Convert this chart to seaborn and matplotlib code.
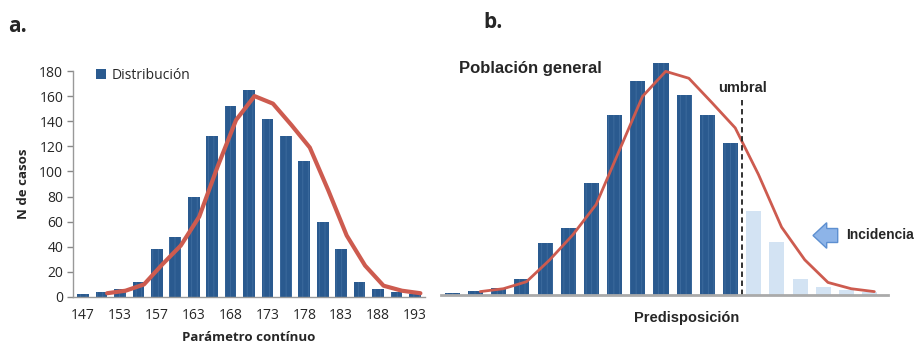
import numpy as np
import pandas as pd
import matplotlib
matplotlib.use("Agg")
import matplotlib.pyplot as plt
import seaborn as sns
from matplotlib.patches import Polygon

sns.set_theme(style="white")
plt.rcParams['font.family'] = ['Open Sans', 'DejaVu Sans']

# ---------------- data ----------------
cats_a = ["147", "150", "153", "155", "157", "160", "163", "165", "168", "170",
          "173", "175", "178", "180", "183", "185", "188", "190", "193"]
bars_a = [2, 4, 6, 12, 38, 48, 80, 128, 152, 165, 142, 128, 108, 60, 38, 12, 6, 4, 2]
line_a = [3, 5, 10, 26, 41, 64, 104, 141, 160, 154, 137, 119, 85, 49, 25, 9, 5, 3]
ticklabels_a = ["147", "153", "157", "163", "168", "173", "178", "183", "188", "193"]

cats_b = [f"c{i}" for i in range(1, 20)]
bars_b = [1.3, 3.5, 5.6, 13, 41, 53, 89, 143, 170, 185, 159, 143, 121, 67, 42, 13, 6.6, 4, 2]
group_b = ["base"] * 13 + ["incidencia"] * 6
line_b = [2.7, 5, 10.6, 28, 48, 72, 115, 158, 178, 172.5, 153, 133, 96, 54, 28, 10, 5, 2.7]
umbral_b = 12.5
umbral_top = 155

BLUE = "#2a5a8f"
STRIPE = "#3f6d9f"
LIGHT = "#d3e3f3"
RED = "#cd5b4f"

plt.rcParams['hatch.linewidth'] = 0.6

W, H = 918, 346
fig = plt.figure(figsize=(W / 100, H / 100), dpi=100)


def stripe(p):
    p.set_edgecolor(STRIPE)
    p.set_linewidth(0)
    p.set_hatch("|||")
    if hasattr(p, "set_hatchcolor"):
        p.set_hatchcolor(STRIPE)


# ---------------- panel a ----------------
axa = fig.add_axes([73 / W, 1 - 297 / H, (425 - 73) / W, (297 - 71) / H])
dfa = pd.DataFrame({"cat": cats_a, "n": bars_a})
sns.barplot(data=dfa, x="cat", y="n", color=BLUE, saturation=1, width=0.63,
            ax=axa, label="Distribución")
for p in axa.patches:
    stripe(p)
xa = np.arange(1, len(cats_a)) + 0.3
sns.lineplot(x=xa, y=line_a, color=RED, lw=3, ax=axa, legend=False)
axa.set_xlim(-0.55, 18.55)
axa.set_ylim(0, 180)
axa.set_yticks(np.arange(0, 181, 20))
axa.set_xticks(np.arange(0, 19, 2))
axa.set_xticklabels(ticklabels_a)
axa.set_xticks(np.arange(-0.5, 19, 1), minor=True)
axa.tick_params(axis="x", which="major", length=0, labelsize=10, pad=8)
axa.tick_params(axis="x", which="minor", length=4, width=1, color="#888888", direction="out")
axa.tick_params(axis="y", length=4, width=1, color="#888888", direction="out", labelsize=10, left=True, pad=3)
for s in ["top", "right"]:
    axa.spines[s].set_visible(False)
for s in ["left", "bottom"]:
    axa.spines[s].set_color("#999999")
    axa.spines[s].set_linewidth(1)
axa.set_xlabel("Parámetro contínuo", fontsize=9.5, fontweight="bold", labelpad=6)
axa.set_ylabel("N de casos", fontsize=9.5, fontweight="bold", labelpad=7)
axa.grid(False)
leg = axa.legend(loc="upper left", bbox_to_anchor=(0.03, 1.07), frameon=False,
                 fontsize=10, handlelength=0.7, handleheight=0.7, handletextpad=0.4)
for h in leg.get_patches():
    h.set_hatch(None)

fig.text(8 / W, 1 - 27 / H, "a.", fontsize=15, fontweight="bold", va="center", ha="left")

# ---------------- panel b ----------------
axb = fig.add_axes([441 / W, 1 - 295 / H, (888 - 441) / W, (295 - 50) / H])
dfb = pd.DataFrame({"cat": cats_b, "n": bars_b, "g": group_b})
sns.barplot(data=dfb, x="cat", y="n", hue="g", palette={"base": BLUE, "incidencia": LIGHT},
            saturation=1, width=0.65, dodge=False, ax=axb, legend=False)
for p in axb.patches:
    p.set_linewidth(0)
    if p.get_facecolor()[2] < 0.7:
        stripe(p)
xb = np.arange(1, len(cats_b)) + 0.2
sns.lineplot(x=xb, y=line_b, color=RED, lw=2, ax=axb, legend=False)
axb.vlines(umbral_b, 0, umbral_top, colors="#222222", linestyles=(0, (3, 2)), lw=1.3)
axb.set_xlim(-0.49, 18.79)
axb.set_ylim(0, 195)
axb.set_xticks([])
axb.set_yticks([])
axb.set_xlabel("")
axb.set_ylabel("")
for s in ["top", "right", "left"]:
    axb.spines[s].set_visible(False)
axb.spines["bottom"].set_color("#aaaaaa")
axb.spines["bottom"].set_linewidth(2)
axb.grid(False)

bfont = ['Liberation Sans', 'DejaVu Sans']
fig.text(483 / W, 1 - 22 / H, "b.", fontsize=15, fontweight="bold", va="center", ha="left")
fig.text(459 / W, 1 - 69 / H, "Población general", fontsize=12, fontweight="bold",
         va="center", ha="left", family=bfont)
fig.text(718 / W, 1 - 88 / H, "umbral", fontsize=10.5, fontweight="bold",
         va="center", ha="left", family=bfont)
fig.text(846 / W, 1 - 235 / H, "Incidencia", fontsize=10, fontweight="bold",
         va="center", ha="left", family=bfont)
fig.text(687 / W, 1 - 318 / H, "Predisposición", fontsize=10.5, fontweight="bold",
         va="center", ha="center", family=bfont)

# arrow (pixel coords from top-left)
pts = [(813, 235.5), (826.7, 222.7), (826.7, 228.5), (837.7, 228.5),
       (837.7, 242.5), (826.7, 242.5), (826.7, 248.3)]
pts = [(x / W, 1 - y / H) for x, y in pts]
fig.patches.append(Polygon(pts, closed=True, transform=fig.transFigure,
                           facecolor="#8db4e8", edgecolor="#5d8fd0", lw=1))

fig.savefig("out.png", dpi=100)
